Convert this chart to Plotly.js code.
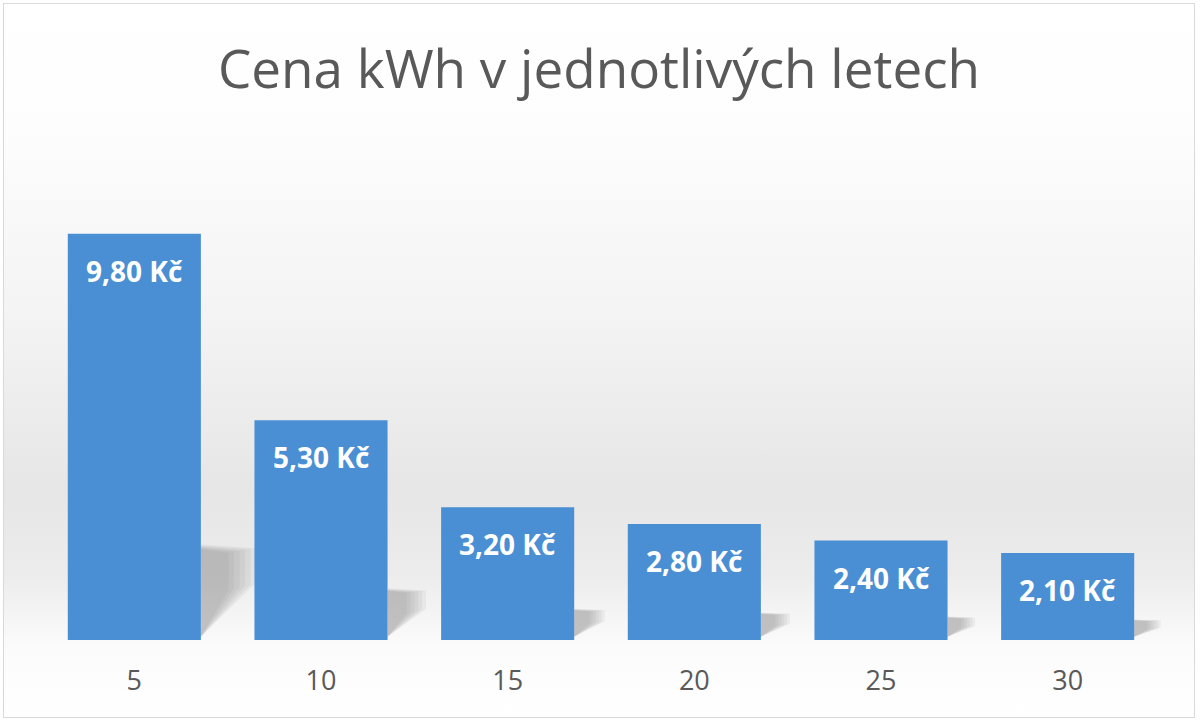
<!DOCTYPE html>
<html>
<head>
<meta charset="utf-8">
<script src="https://cdn.plot.ly/plotly-3.0.1.min.js"></script>
<style>
  html, body { margin: 0; padding: 0; background: #ffffff; }
  #chart {
    position: absolute;
    left: 3px; top: 3px;
    width: 1190px; height: 713px;
    border: 1px solid #d9d9d9;
    background: linear-gradient(to bottom,
      #ffffff 0%, #fdfdfd 18%, #f3f3f3 45%, #e6e6e6 68%, #ececec 80%, #fbfbfb 90%, #ffffff 100%);
  }
</style>
</head>
<body>
<div id="chart"></div>
<script>
// Chart data
const years = ['5', '10', '15', '20', '25', '30'];
const prices = [9.8, 5.3, 3.2, 2.8, 2.4, 2.1];

const BARGAP = 0.287;
const fmt = (v) => v.toFixed(2).replace('.', ',') + ' Kč';

var barTrace = {
  x: years,
  y: prices,
  type: 'bar',
  marker: { color: '#4a8fd3', line: { width: 0 } },
  hoverinfo: 'none',
};

// labels sit inside the bar, a bit below its top
// (x given as category index)
var labels = prices.map((v, i) => ({
  x: i,
  y: v,
  xref: 'x',
  yref: 'y',
  text: fmt(v),
  showarrow: false,
  yanchor: 'middle',
  yshift: -37,
  font: { family: 'Open Sans, sans-serif', size: 28, color: '#ffffff', weight: 'bold' },
}));

// soft cast shadow to the right of every bar, stacked layers fake the blur
var shadows = [];
prices.forEach((v, i) => {
  const r = i + (1 - BARGAP) / 2;
  const hTop = v * 0.235;
  const wMax = Math.min(0.1 + 0.02 * v, 0.33);
  [1.0, 0.9, 0.8, 0.7, 0.6, 0.5].forEach((k) => {
    const w = wMax * k;
    const top = hTop * (0.9 + 0.1 * k);
    const low = hTop * (0.6 - 0.15 * (1 - k));
    shadows.push({
      type: 'path',
      xref: 'x',
      yref: 'y',
      layer: 'below',
      path: 'M ' + r + ',0.08 L ' + r + ',' + top +
        ' L ' + (r + w) + ',' + (top * 0.96) +
        ' L ' + (r + w) + ',' + low + ' Z',
      fillcolor: 'rgba(100,100,100,0.07)',
      line: { width: 0 },
    });
  });
});

var layout = {
  width: 1190,
  height: 713,
  margin: { t: 180, b: 77, l: 37, r: 33, pad: 0 },
  paper_bgcolor: 'rgba(0,0,0,0)',
  plot_bgcolor: 'rgba(0,0,0,0)',
  showlegend: false,
  bargap: BARGAP,
  title: {
    text: 'Cena kWh v jednotlivých letech',
    font: { family: 'Open Sans, sans-serif', size: 53, color: '#595959' },
    x: 0.5,
    xanchor: 'center',
    y: 0.908,
    yanchor: 'middle',
  },
  xaxis: {
    type: 'category',
    range: [-0.5, years.length - 0.5],
    showgrid: false,
    showline: false,
    zeroline: false,
    ticks: 'outside',
    ticklen: 17,
    tickcolor: 'rgba(0,0,0,0)',
    tickfont: { family: 'Open Sans, sans-serif', size: 27, color: '#595959' },
  },
  yaxis: {
    range: [0, 11],
    visible: false,
    showgrid: false,
    zeroline: false,
  },
  shapes: shadows,
  annotations: labels,
};

var config = { responsive: false, displayModeBar: false, staticPlot: true };

Plotly.newPlot('chart', [barTrace], layout, config);
</script>
</body>
</html>
